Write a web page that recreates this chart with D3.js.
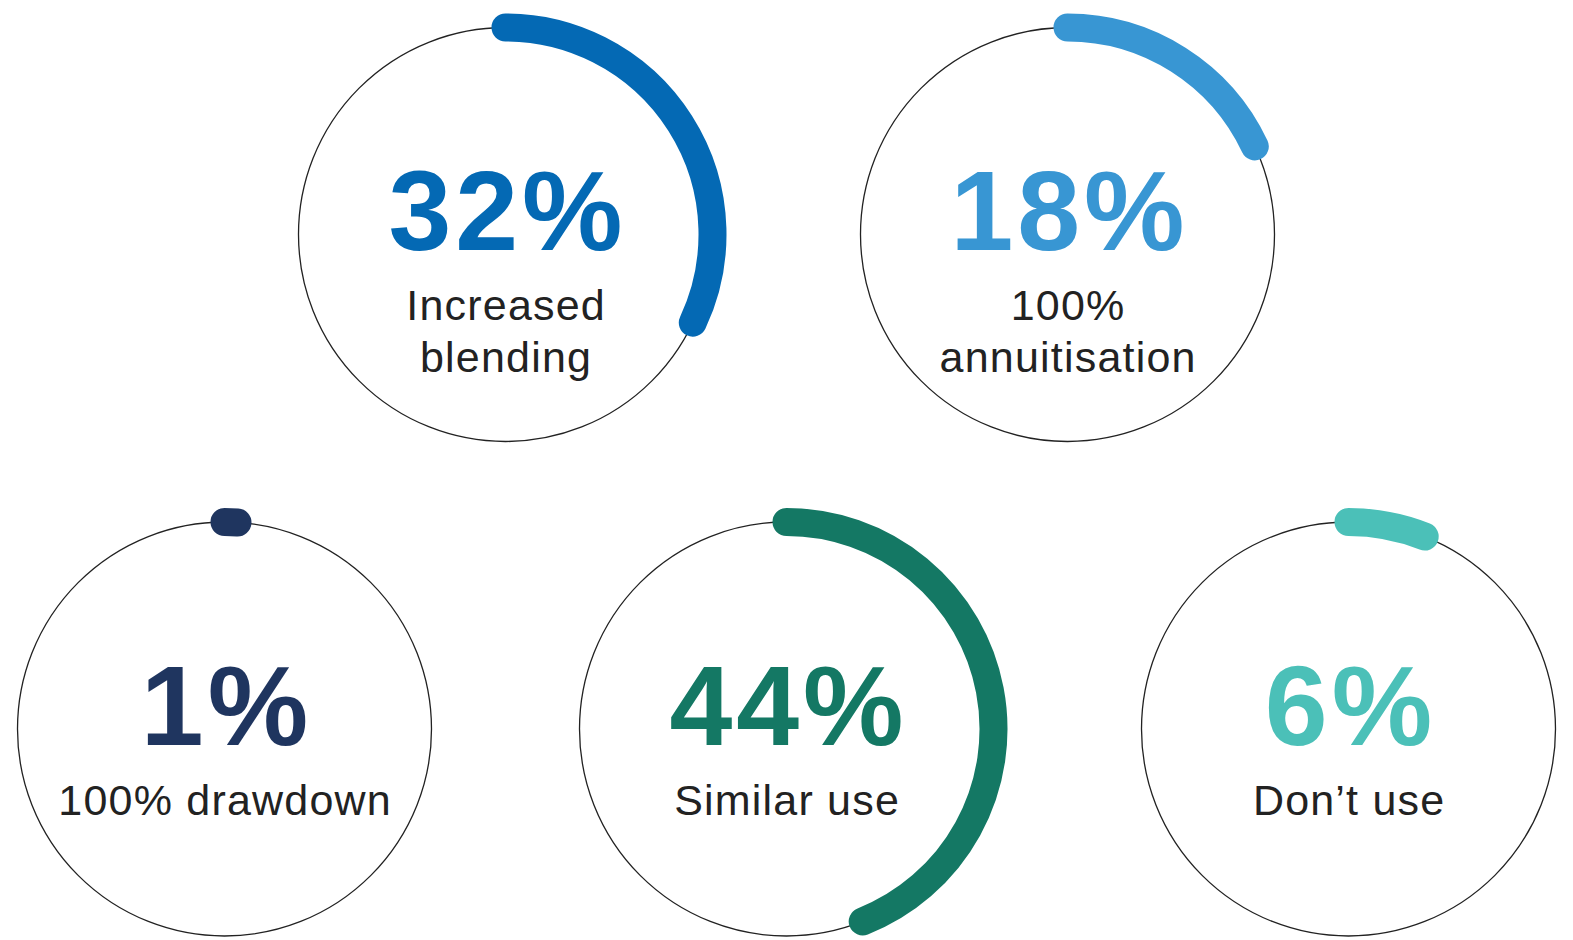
<!DOCTYPE html>
<html>
<head>
<meta charset="utf-8">
<script src="https://cdn.jsdelivr.net/npm/d3@7"></script>
<style>
  html, body { margin: 0; padding: 0; background: #ffffff; }
  svg { display: block; }
</style>
</head>
<body>
<svg id="chart" width="1573" height="940"></svg>
<script>
// Share of respondents per retirement-income approach
const categories = ["Increased blending", "100% annuitisation", "100% drawdown", "Similar use", "Don\u2019t use"];
const values = [32, 18, 1, 44, 6];
const labelLines = [["Increased", "blending"], ["100%", "annuitisation"], ["100% drawdown"], ["Similar use"], ["Don\u2019t use"]];
const colors = ["#0469b4", "#3896d3", "#1f355f", "#147864", "#4bc0b8"];
// grid slot (column in half-steps, row) of each gauge
const slotCol = [1, 3, 0, 2, 4];
const slotRow = [0, 0, 1, 1, 1];

const W = 1573, H = 940;
const R = 207;

const svg = d3.select("#chart");

// positions of the gauge centres
const x = d3.scaleLinear().domain([0, 4]).range([224.5, 1348.5]);
const y = d3.scaleOrdinal().domain([0, 1]).range([234.5, 729]);
// percentage -> sweep angle, starting from 12 o'clock
const angle = d3.scaleLinear().domain([0, 100]).range([0, 2 * Math.PI]);

const data = categories.map((c, i) => ({
  category: c, value: values[i], lines: labelLines[i], color: colors[i],
  cx: x(slotCol[i]), cy: y(slotRow[i])
}));

const g = svg.selectAll("g.gauge").data(data).join("g")
  .attr("class", "gauge")
  .attr("transform", d => `translate(${d.cx},${d.cy})`);

// thin outline ring
g.append("circle")
  .attr("r", R)
  .attr("fill", "none")
  .attr("stroke", "#222")
  .attr("stroke-width", 1.3);

// value arc
g.append("path")
  .attr("d", d => {
    const p = d3.path();
    const a0 = -Math.PI / 2;
    p.arc(0, 0, R, a0, a0 + angle(d.value), false);
    return p.toString();
  })
  .attr("fill", "none")
  .attr("stroke", d => d.color)
  .attr("stroke-width", 28)
  .attr("stroke-linecap", "round");

// big percentage
g.append("text")
  .attr("text-anchor", "middle")
  .attr("x", 2)
  .attr("y", 15.5)
  .attr("font-family", "'Liberation Sans', Arial, sans-serif")
  .attr("font-weight", 700)
  .attr("font-size", 113)
  .attr("letter-spacing", 4)
  .attr("fill", d => d.color)
  .text(d => d.value + "%");

// category label
g.each(function(d) {
  const t = d3.select(this).append("text")
    .attr("text-anchor", "middle")
    .attr("font-family", "'Liberation Sans', Arial, sans-serif")
    .attr("font-size", 43)
    .attr("letter-spacing", 1.2)
    .attr("fill", "#222");
  d.lines.forEach((line, k) => {
    t.append("tspan").attr("x", 0.6).attr("y", 85.5 + k * 52).text(line);
  });
});
</script>
</body>
</html>
